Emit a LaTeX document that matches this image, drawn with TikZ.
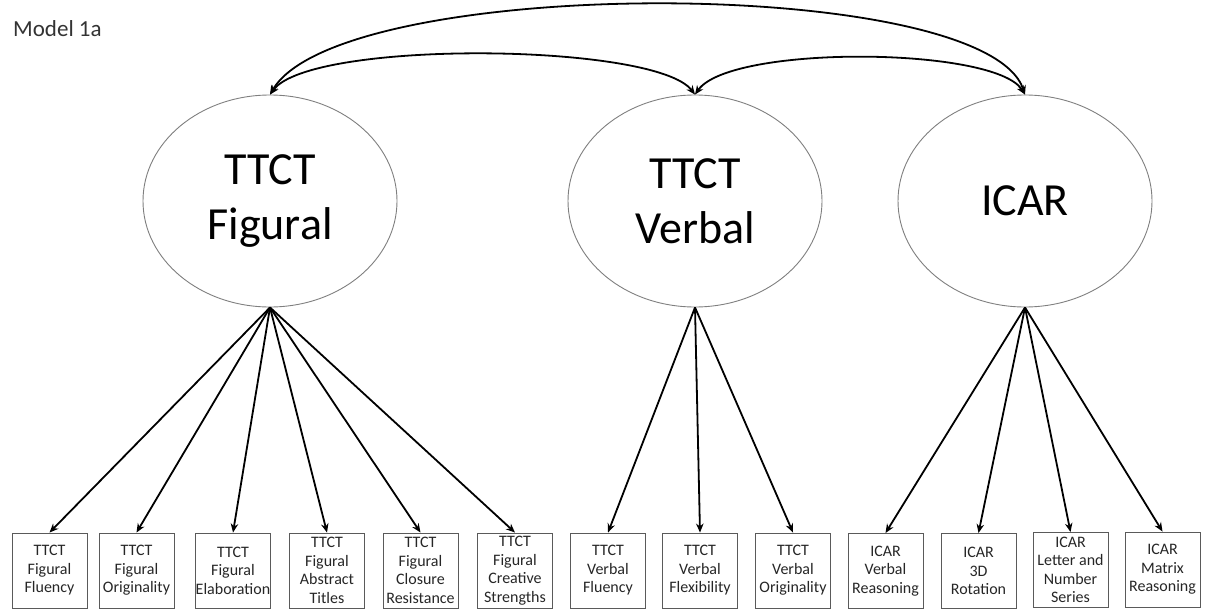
\documentclass[tikz,border=0pt]{standalone}
\usepackage{fontspec}
\setmainfont{Carlito}
\usetikzlibrary{shapes.geometric,arrows.meta,calc}
\definecolor{ellgray}{HTML}{7F7F7F}
\definecolor{boxgray}{HTML}{5A5A5A}
\tikzset{
  latent/.style={ellipse,draw=ellgray,line width=0.9pt,minimum width=254pt,minimum height=212pt,inner sep=0pt,align=center,font=\fontsize{46}{55}\selectfont},
  obs/.style={rectangle,draw=boxgray,line width=0.9pt,minimum width=75pt,minimum height=75pt,inner sep=0pt,align=center,font=\fontsize{16}{18.5}\selectfont,text=black!85},
  load/.style={line width=1.8pt,-{Stealth[length=9pt,width=7.5pt]}},
  cov/.style={line width=1.8pt,{Stealth[length=9pt,width=7.5pt]}-{Stealth[length=9pt,width=7.5pt]}},
  ttl/.style={anchor=base west,inner sep=0pt,font=\fontsize{23}{27}\selectfont,text=black!80}
}
\begin{document}
\begin{tikzpicture}[x=1pt,y=-1pt]
\useasboundingbox (0,0) rectangle (1209,610);
\node[ttl] (title) at (13,37) {Model 1a};
\node[latent] (fig) at (270,201) {TTCT\\Figural};
\node[latent] (verb) at (695,201) {TTCT\\Verbal};
\node[latent] (icar) at (1025,201) {ICAR};

\node[obs] (b1) at (49.5,570.5) {TTCT\\Figural\\Fluency};
\node[obs] (b2) at (136.5,570.5) {TTCT\\Figural\\Originality};
\node[obs] (b3) at (233,570.5) {TTCT\\Figural\\Elaboration};
\node[obs] (b4) at (327,570.5) {TTCT\\Figural\\Abstract\\Titles};
\node[obs] (b5) at (420.5,570.5) {TTCT\\Figural\\Closure\\Resistance};
\node[obs] (b6) at (515,570.5) {TTCT\\Figural\\Creative\\Strengths};
\node[obs] (b7) at (608,570.5) {TTCT\\Verbal\\Fluency};
\node[obs] (b8) at (700,570.5) {TTCT\\Verbal\\Flexibility};
\node[obs] (b9) at (793,570.5) {TTCT\\Verbal\\Originality};
\node[obs] (b10) at (885.5,571) {ICAR\\Verbal\\Reasoning};
\node[obs] (b11) at (978.5,571) {ICAR\\3D\\Rotation};
\node[obs] (b12) at (1070.5,570) {ICAR\\Letter and\\Number\\Series};
\node[obs] (b13) at (1162.5,569.5) {ICAR\\Matrix\\Reasoning};

\foreach \b in {b1,b2,b3,b4,b5,b6} \draw[load] (fig.south) -- (\b.north);
\foreach \b in {b7,b8,b9} \draw[load] (verb.south) -- (\b.north);
\foreach \b in {b10,b11,b12,b13} \draw[load] (icar.south) -- (\b.north);

\draw[cov] (fig.north) .. controls ($(fig.north)+(70,-120)$) and ($(icar.north)+(-40,-120)$) .. (icar.north);
\draw[cov] (fig.north) .. controls ($(fig.north)+(40,-55)$) and ($(verb.north)+(-40,-52)$) .. (verb.north);
\draw[cov] (verb.north) .. controls ($(verb.north)+(35,-50)$) and ($(icar.north)+(-30,-48)$) .. (icar.north);
\end{tikzpicture}
\end{document}
